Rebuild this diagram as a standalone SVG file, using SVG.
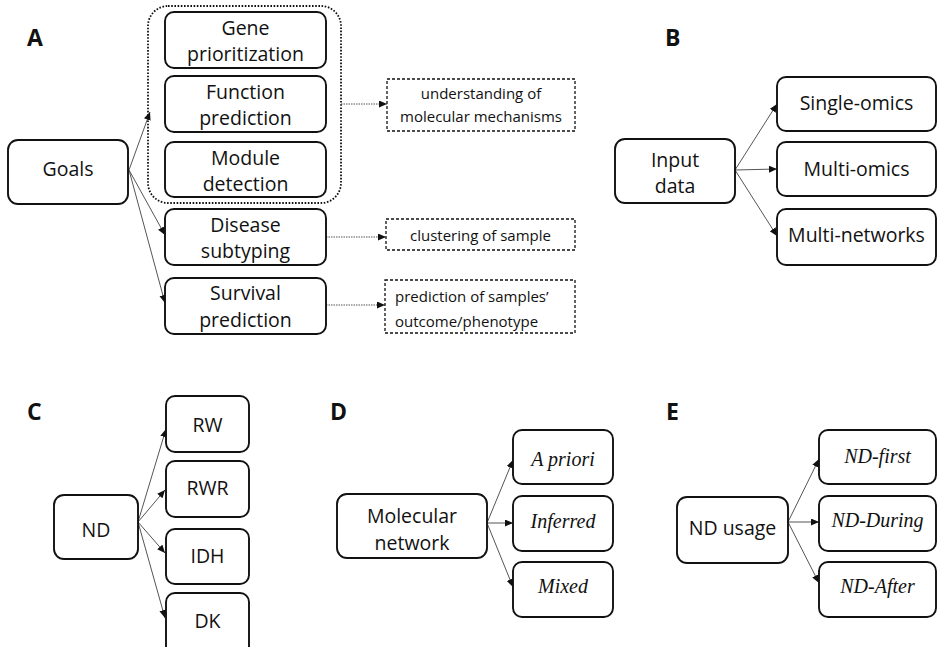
<svg xmlns="http://www.w3.org/2000/svg" width="937" height="647" viewBox="0 0 937 647">
<style>
.bg{fill:#fff}
.box{fill:#fff;stroke:#111;stroke-width:1.9}
.group{fill:none;stroke:#111;stroke-width:1.8;stroke-dasharray:1.6 1.6}
.dbox{fill:#fff;stroke:#111;stroke-width:1.3;stroke-dasharray:3 2}
.t{font-family:"Open Sans","Liberation Sans",sans-serif;font-size:19.5px;fill:#111;text-anchor:middle}
.s{font-family:"Open Sans","Liberation Sans",sans-serif;font-size:15px;fill:#111;text-anchor:middle}
.sl{text-anchor:start}
.i{font-family:"Liberation Serif","DejaVu Serif",serif;font-style:italic;font-size:20px;fill:#111;text-anchor:middle}
.lbl{font-family:"Open Sans","Liberation Sans",sans-serif;font-weight:bold;font-size:23px;fill:#111}
.edge{fill:none;stroke:#555;stroke-width:1;marker-end:url(#ah)}
.dedge{fill:none;stroke:#555;stroke-width:1;stroke-dasharray:1.5 1;marker-end:url(#ah)}
</style>
<defs>
<marker id="ah" markerUnits="userSpaceOnUse" markerWidth="9" markerHeight="8" refX="8" refY="3.5" orient="auto">
<path d="M0,0 L8,3.5 L0,7 z" fill="#111"/>
</marker>
</defs>
<rect class="bg" x="0" y="0" width="937" height="647"/>

<g id="labels">
<text class="lbl" x="27" y="46">A</text>
<text class="lbl" x="665" y="46">B</text>
<text class="lbl" x="27" y="420">C</text>
<text class="lbl" x="330" y="420">D</text>
<text class="lbl" x="666" y="420">E</text>
</g>

<g id="connectors">
<line class="edge" x1="129" y1="170" x2="150" y2="112"/>
<line class="edge" x1="129" y1="170" x2="165" y2="235"/>
<line class="edge" x1="129" y1="170" x2="165" y2="303"/>
<line class="dedge" x1="341" y1="104" x2="387" y2="104"/>
<line class="dedge" x1="326" y1="237" x2="386" y2="237"/>
<line class="dedge" x1="326" y1="305" x2="385" y2="305"/>
<line class="edge" x1="735" y1="170" x2="777" y2="104"/>
<line class="edge" x1="735" y1="170" x2="777" y2="169"/>
<line class="edge" x1="735" y1="170" x2="777" y2="236"/>
<line class="edge" x1="138" y1="522" x2="166" y2="429"/>
<line class="edge" x1="138" y1="522" x2="165" y2="490"/>
<line class="edge" x1="138" y1="522" x2="165" y2="553"/>
<line class="edge" x1="138" y1="522" x2="165" y2="618"/>
<line class="edge" x1="487" y1="523" x2="513" y2="460"/>
<line class="edge" x1="487" y1="523" x2="513" y2="523"/>
<line class="edge" x1="487" y1="523" x2="513" y2="587"/>
<line class="edge" x1="788" y1="522" x2="819" y2="459"/>
<line class="edge" x1="788" y1="522" x2="819" y2="522"/>
<line class="edge" x1="788" y1="522" x2="819" y2="583"/>
</g>

<g id="goals"><rect class="box" x="8" y="140" width="120" height="64" rx="10"/><text class="t" x="68" y="176">Goals</text></g>
<g id="understanding-group"><rect class="group" x="148" y="6" width="193" height="197" rx="20"/></g>
<g id="gene-prioritization"><rect class="box" x="165" y="12" width="161" height="56" rx="9"/><text class="t" x="245.5" y="34.5">Gene</text><text class="t" x="245.5" y="61">prioritization</text></g>
<g id="function-prediction"><rect class="box" x="165" y="76" width="161" height="56" rx="9"/><text class="t" x="245.5" y="99">Function</text><text class="t" x="245.5" y="125">prediction</text></g>
<g id="module-detection"><rect class="box" x="165" y="142" width="161" height="55" rx="9"/><text class="t" x="245.5" y="165">Module</text><text class="t" x="245.5" y="191">detection</text></g>
<g id="disease-subtyping"><rect class="box" x="165" y="209" width="161" height="56" rx="9"/><text class="t" x="245.5" y="232">Disease</text><text class="t" x="245.5" y="258">subtyping</text></g>
<g id="survival-prediction"><rect class="box" x="165" y="278" width="161" height="56" rx="9"/><text class="t" x="245.5" y="300">Survival</text><text class="t" x="245.5" y="327">prediction</text></g>
<g id="understanding"><rect class="dbox" x="387" y="79" width="188" height="52"/><text class="s" x="481" y="99">understanding of</text><text class="s" x="481" y="122">molecular mechanisms</text></g>
<g id="clustering"><rect class="dbox" x="386" y="219" width="189" height="31"/><text class="s" x="480.5" y="241">clustering of sample</text></g>
<g id="outcome"><rect class="dbox" x="385" y="280" width="190" height="53"/><text class="s sl" x="395" y="302">prediction of samples’</text><text class="s sl" x="395" y="327">outcome/phenotype</text></g>

<g id="input-data"><rect class="box" x="615" y="139" width="120" height="64" rx="10"/><text class="t" x="675" y="167">Input</text><text class="t" x="675" y="193">data</text></g>
<g id="single-omics"><rect class="box" x="777" y="77" width="159" height="54" rx="9"/><text class="t" x="856.5" y="110">Single-omics</text></g>
<g id="multi-omics"><rect class="box" x="777" y="142" width="159" height="54" rx="9"/><text class="t" x="856.5" y="176">Multi-omics</text></g>
<g id="multi-networks"><rect class="box" x="777" y="209" width="159" height="56" rx="9"/><text class="t" x="856.5" y="242">Multi-networks</text></g>

<g id="nd"><rect class="box" x="54" y="495" width="84" height="64" rx="10"/><text class="t" x="96" y="537">ND</text></g>
<g id="rw"><rect class="box" x="166" y="396" width="83" height="56" rx="9"/><text class="t" x="207.5" y="432">RW</text></g>
<g id="rwr"><rect class="box" x="166" y="461" width="83" height="56" rx="9"/><text class="t" x="207.5" y="495">RWR</text></g>
<g id="idh"><rect class="box" x="166" y="529" width="83" height="55" rx="9"/><text class="t" x="207.5" y="563">IDH</text></g>
<g id="dk"><rect class="box" x="166" y="593" width="83" height="62" rx="9"/><text class="t" x="207.5" y="628">DK</text></g>

<g id="molecular-network"><rect class="box" x="337" y="494" width="150" height="64" rx="10"/><text class="t" x="412" y="523">Molecular</text><text class="t" x="412" y="550">network</text></g>
<g id="a-priori"><rect class="box" x="513" y="430" width="100" height="54" rx="9"/><text class="i" x="563" y="466">A priori</text></g>
<g id="inferred"><rect class="box" x="513" y="496" width="100" height="55" rx="9"/><text class="i" x="563" y="528">Inferred</text></g>
<g id="mixed"><rect class="box" x="513" y="562" width="100" height="55" rx="9"/><text class="i" x="563" y="593">Mixed</text></g>

<g id="nd-usage"><rect class="box" x="677" y="497" width="111" height="66" rx="10"/><text class="t" x="732.5" y="535">ND usage</text></g>
<g id="nd-first"><rect class="box" x="819" y="430" width="117" height="54" rx="9"/><text class="i" x="877.5" y="463">ND-first</text></g>
<g id="nd-during"><rect class="box" x="819" y="496" width="117" height="55" rx="9"/><text class="i" x="877.5" y="527">ND-During</text></g>
<g id="nd-after"><rect class="box" x="819" y="562" width="117" height="55" rx="9"/><text class="i" x="877.5" y="593">ND-After</text></g>
</svg>
